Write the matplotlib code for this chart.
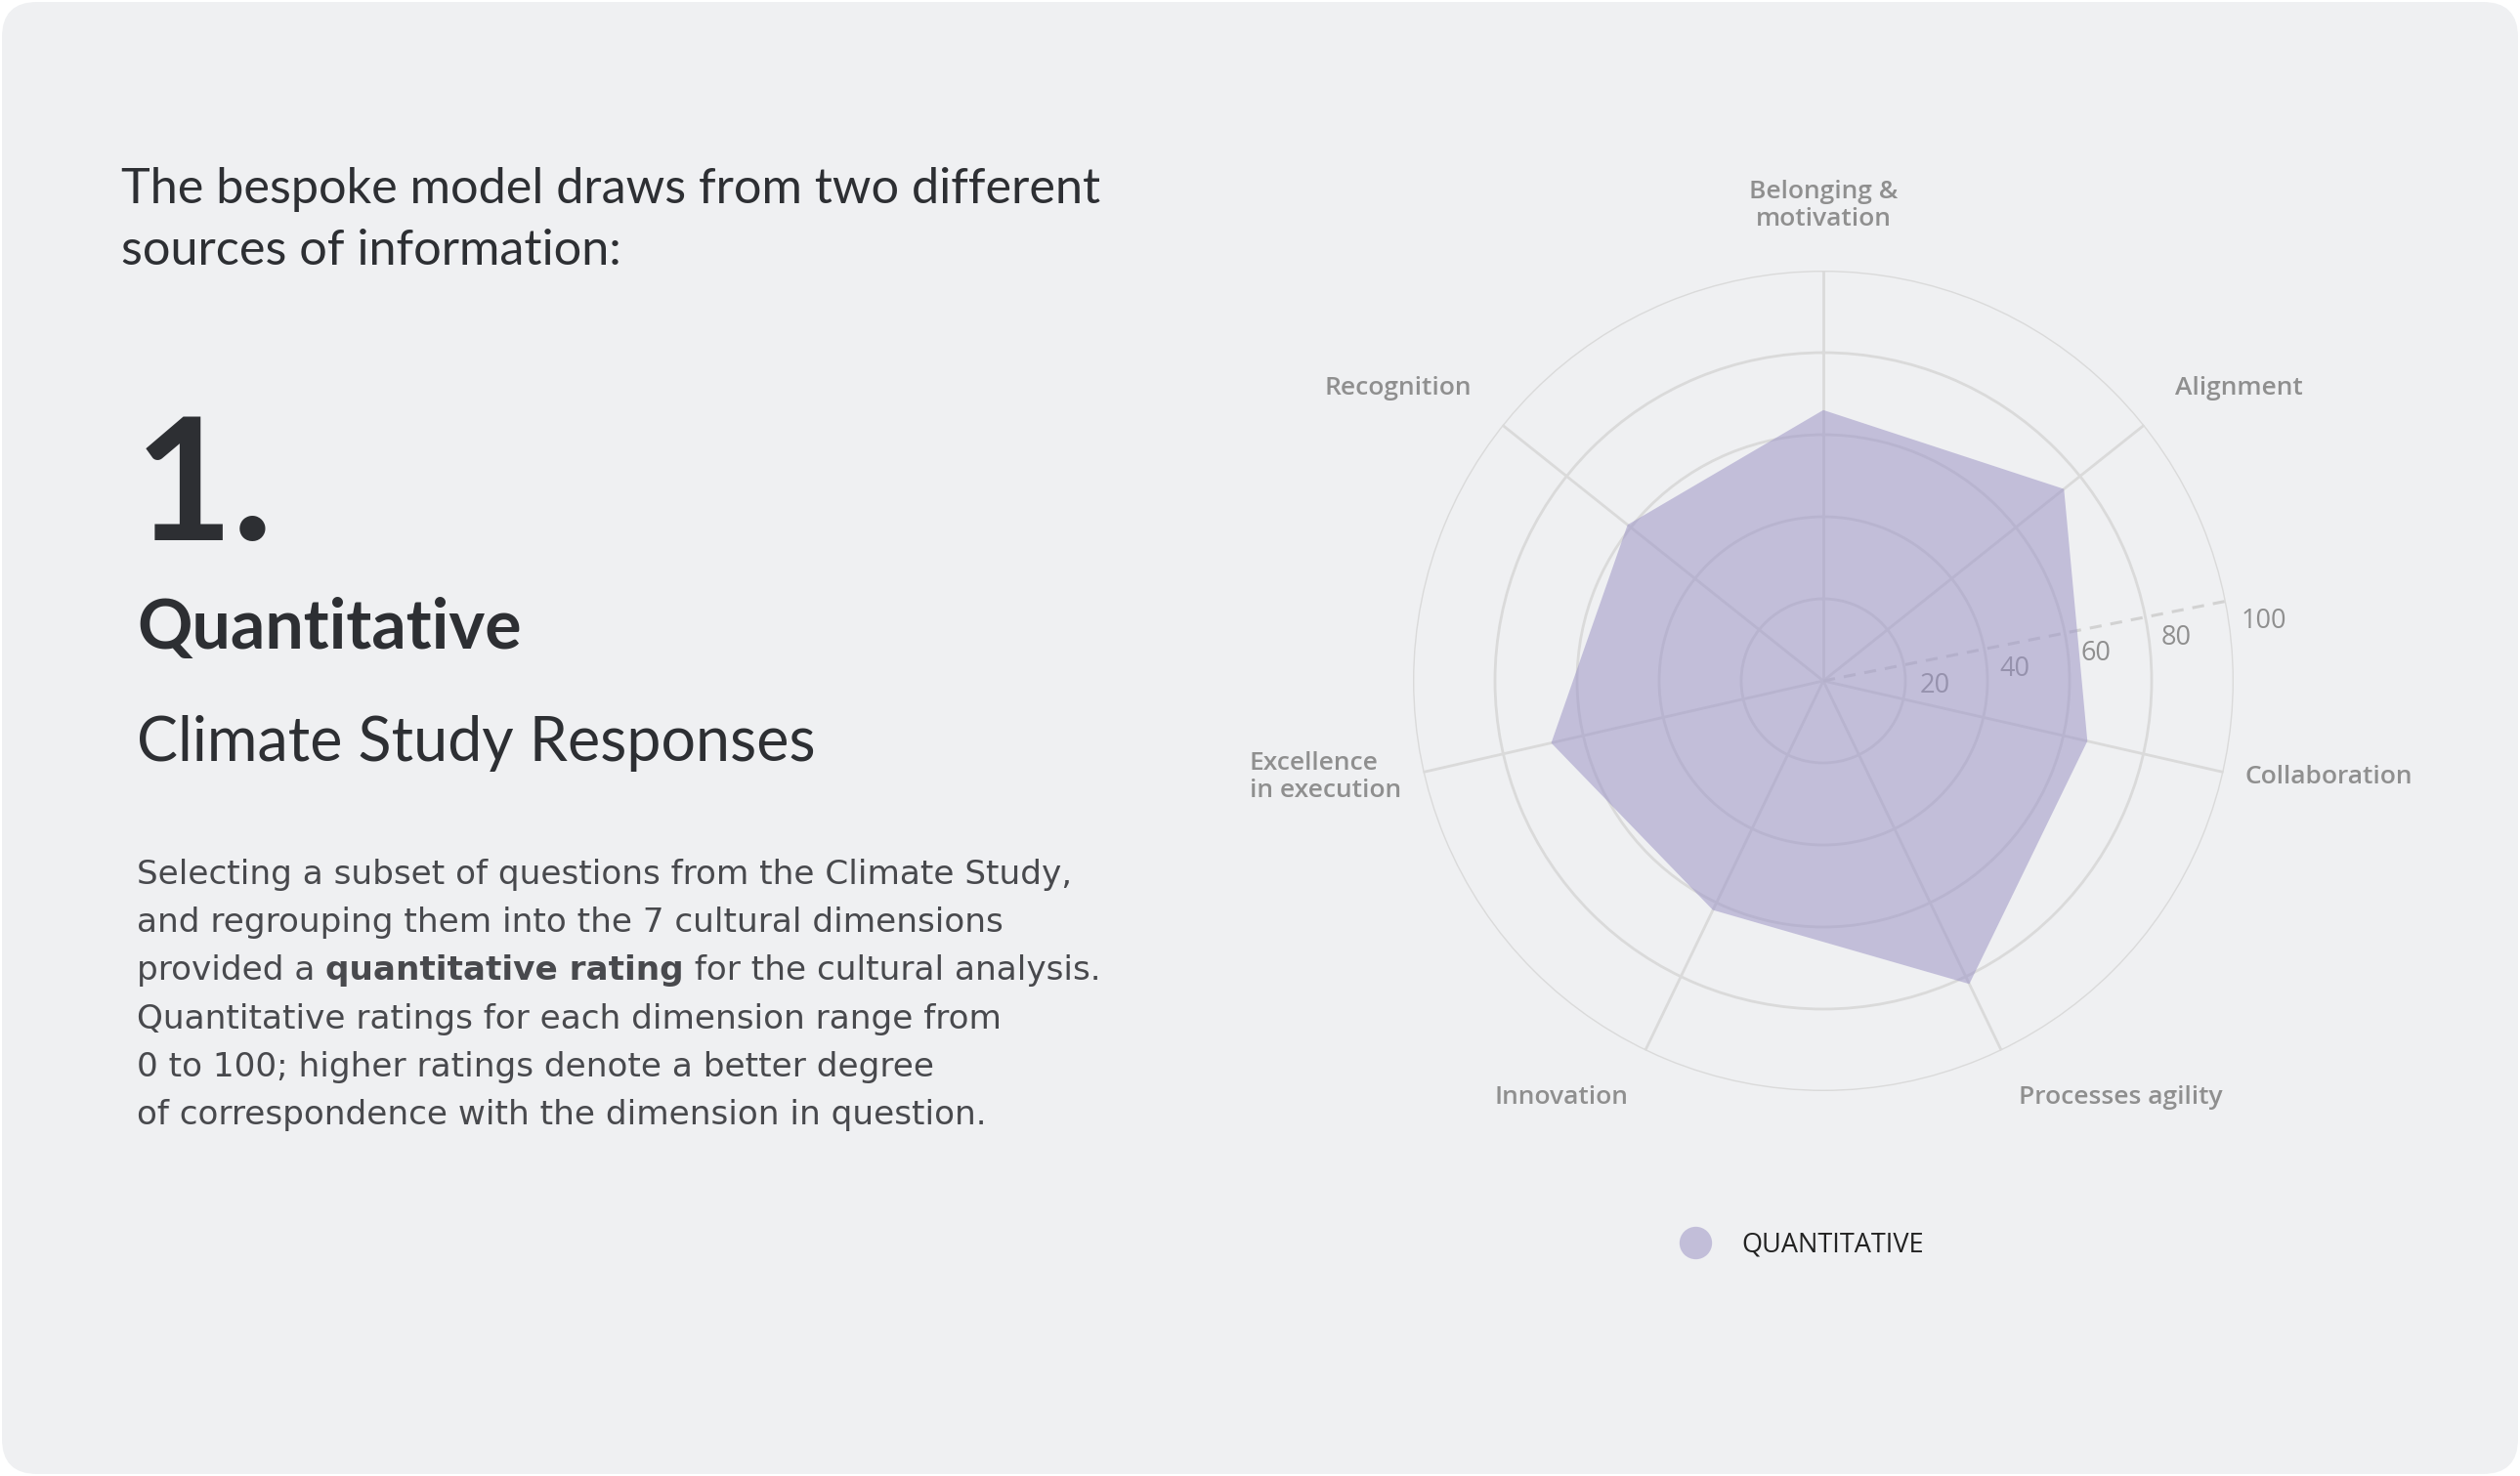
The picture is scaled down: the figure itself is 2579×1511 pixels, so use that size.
import matplotlib
matplotlib.use("Agg")
import matplotlib.pyplot as plt
import numpy as np
from matplotlib.patches import FancyBboxPatch
from matplotlib.lines import Line2D

# ---- data ----
dimensions = ["Belonging &\nmotivation", "Alignment", "Collaboration",
              "Processes agility", "Innovation", "Excellence\nin execution",
              "Recognition"]
quantitative = [66, 75, 66, 82, 62, 68, 61]
ring_ticks = [20, 40, 60, 80, 100]
series_name = "QUANTITATIVE"

intro_lines = ["The bespoke model draws from two different",
               "sources of information:"]
number = "1."
section_title = "Quantitative"
section_subtitle = "Climate Study Responses"
paragraph = [
    [("Selecting a subset of questions from the Climate Study,", "normal")],
    [("and regrouping them into the 7 cultural dimensions", "normal")],
    [("provided a ", "normal"), ("quantitative rating", "bold"),
     (" for the cultural analysis.", "normal")],
    [("Quantitative ratings for each dimension range from", "normal")],
    [("0 to 100; higher ratings denote a better degree", "normal")],
    [("of correspondence with the dimension in question.", "normal")],
]

# ---- style ----
W, H, DPI = 2579, 1511, 100
card = "#eff0f2"
dark = "#2d2f33"
body = "#48494d"
grey = "#8f8f8f"
grid_c = "#dadada"
fill_c = "#9d95c6"
head_font = "Lato"
body_font = "DejaVu Sans"
label_font = "Open Sans"

fig = plt.figure(figsize=(W / DPI, H / DPI), dpi=DPI, facecolor="white")
bg = fig.add_axes([0, 0, 1, 1])
bg.set_xlim(0, W)
bg.set_ylim(H, 0)
bg.axis("off")
bg.add_patch(FancyBboxPatch((2, 2), W - 4, H - 4,
                            boxstyle="round,pad=0,rounding_size=36",
                            fc=card, ec="none"))

fig.canvas.draw()
renderer = fig.canvas.get_renderer()


def fit_size(text, family, weight, target_px, base=20):
    # font size that gives the text the width it has in the picture
    t = bg.text(0, 0, text, fontsize=base, family=family, weight=weight)
    w = t.get_window_extent(renderer=renderer).width
    t.remove()
    return base * target_px / w


# left column text
fs_intro = fit_size(intro_lines[0], head_font, "normal", 1005)
bg.text(124, 208, intro_lines[0], fontsize=fs_intro, family=head_font, color=dark, va="baseline")
bg.text(124, 271, intro_lines[1], fontsize=fs_intro, family=head_font, color=dark, va="baseline")
bg.text(138, 553, number, fontsize=125, family=head_font, weight="bold", color=dark, va="baseline")
bg.text(140, 664, section_title, family=head_font, weight="bold", color=dark, va="baseline",
        fontsize=fit_size(section_title, head_font, "bold", 394))
bg.text(140, 779, section_subtitle, family=head_font, color=dark, va="baseline",
        fontsize=fit_size(section_subtitle, head_font, "normal", 695))

fs_body = fit_size(paragraph[0][0][0], body_font, "normal", 957)
y = 905
for line in paragraph:
    x = 140
    for txt, wt in line:
        t = bg.text(x, y, txt, fontsize=fs_body, family=body_font, weight=wt,
                    color=body, va="baseline")
        x += t.get_window_extent(renderer=renderer).width
    y += 49.2

# ---- radar chart ----
cx, cy, R = 1866, 697, 420
ax = fig.add_axes([(cx - R) / W, (H - cy - R) / H, 2 * R / W, 2 * R / H],
                  projection="polar")
ax.set_facecolor("none")
ax.set_theta_offset(np.pi / 2)
ax.set_theta_direction(-1)
ax.set_ylim(0, 100)

angles = np.linspace(0, 2 * np.pi, len(dimensions), endpoint=False)
ax.set_xticks(angles)
ax.set_xticklabels([])
ax.set_yticks(ring_ticks)
ax.set_yticklabels([])
ax.grid(True, color=grid_c, linewidth=2)
ax.spines["polar"].set_visible(False)
ax.tick_params(length=0)

# dashed scale axis with tick values
scale_ang = np.deg2rad(78.8)
ax.plot([scale_ang, scale_ang], [0, 100], ls=(0, (4, 3)), color="#d2d2d2", lw=2.2)
for v in ring_ticks:
    ax.annotate(str(v), (scale_ang, v), xytext=(16, -21), textcoords="offset pixels",
                ha="left", va="center", fontsize=19.5, family=label_font,
                color=grey, zorder=2)

vals = quantitative + quantitative[:1]
angs = np.append(angles, angles[0])
ax.fill(angs, vals, color=fill_c, alpha=0.55, lw=0, zorder=5, label=series_name)

# category labels around the chart
for a, name in zip(angles, dimensions):
    s = np.sin(a)
    c = np.cos(a)
    if abs(s) < 0.05:
        ha = "center"
    elif s > 0:
        ha = "left"
    else:
        ha = "right"
    if c > 0.3:
        va = "bottom"
    elif c < -0.5:
        va = "top"
    else:
        va = "center"
    lab_r = (443 if abs(c) < 0.5 else 460) * 100 / R
    ax.text(a, lab_r, name, ha=ha, va=va, fontsize=19, family=label_font,
            weight="semibold", color=grey, linespacing=1.15,
            multialignment="center" if ha == "center" else "left")

handle = Line2D([], [], marker="o", ls="", markersize=24,
                markerfacecolor=fill_c, markeredgecolor="none", alpha=0.55)
fig.legend([handle], [series_name], loc="center left",
           bbox_to_anchor=(1684 / W, 1 - 1274 / H), frameon=False,
           prop={"family": label_font, "size": 19.5}, handletextpad=0.75,
           labelcolor="#222222")

fig.savefig("out.png", dpi=DPI, facecolor="white")
